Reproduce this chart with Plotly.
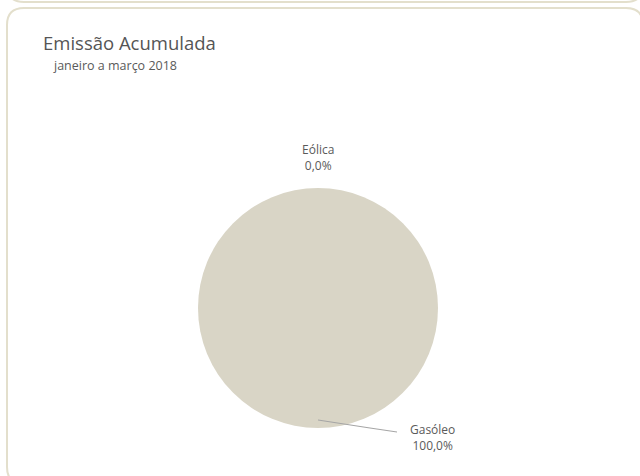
import plotly.graph_objects as go

categories = ["Eólica", "Gasóleo"]
values = [0.0, 100.0]
title = "Emissão Acumulada"
subtitle = "janeiro a março 2018"

W, H = 640, 476
FONT = "Open Sans, Noto Sans, sans-serif"
TXT = "#5a5a5a"
PIE = "#d9d5c6"

def pct(v):
    return f"{v:.1f}".replace(".", ",") + "%"

fig = go.Figure(go.Pie(
    labels=categories, values=values, sort=False, direction="clockwise",
    rotation=0, textinfo="none", hoverinfo="label+percent",
    marker=dict(colors=["#9c9a8c", PIE], line=dict(width=0)),
    domain=dict(x=[198/W, 438/W], y=[(H-428)/H, (H-188)/H]),
    showlegend=False,
))

def px(x):
    return x / W

def py(y):
    return 1 - y / H

anns = [
    dict(text=title, x=px(41), y=py(42), xanchor="left", yanchor="middle",
         font=dict(size=18.5, color="#555555", family=FONT)),
    dict(text=subtitle, x=px(51), y=py(66), xanchor="left", yanchor="middle",
         font=dict(size=12.5, color=TXT, family=FONT)),
    dict(text=f"{categories[0]}<br>{pct(values[0])}", x=px(318), y=py(158),
         xanchor="center", yanchor="middle",
         font=dict(size=12, color=TXT, family=FONT)),
    dict(text=f"{categories[1]}<br>{pct(values[1])}", x=px(432), y=py(437),
         xanchor="center", yanchor="middle",
         font=dict(size=12, color=TXT, family=FONT)),
]
for a in anns:
    a.update(xref="paper", yref="paper", showarrow=False)

r = 17
x0, x1, y0, y1 = 7, 643, 8, 484
path = (f"M {px(x0+r)},{py(y0)} L {px(x1-r)},{py(y0)} "
        f"Q {px(x1)},{py(y0)} {px(x1)},{py(y0+r)} L {px(x1)},{py(y1-r)} "
        f"Q {px(x1)},{py(y1)} {px(x1-r)},{py(y1)} L {px(x0+r)},{py(y1)} "
        f"Q {px(x0)},{py(y1)} {px(x0)},{py(y1-r)} L {px(x0)},{py(y0+r)} "
        f"Q {px(x0)},{py(y0)} {px(x0+r)},{py(y0)} Z")
top_path = (f"M {px(x0)},{py(-10)} L {px(x0)},{py(2-r)} "
            f"Q {px(x0)},{py(2)} {px(x0+r)},{py(2)} L {px(x1-r)},{py(2)} "
            f"Q {px(x1)},{py(2)} {px(x1)},{py(2-r)}")

shapes = [
    dict(type="path", path=path, xref="paper", yref="paper",
         line=dict(color="#e3dfcc", width=2), fillcolor="rgba(0,0,0,0)", layer="below"),
    dict(type="path", path=top_path, xref="paper", yref="paper",
         line=dict(color="#e3dfcc", width=2), layer="below"),
    dict(type="path", path=f"M {px(318)},{py(420)} L {px(370)},{py(428)} L {px(397)},{py(432)}",
         xref="paper", yref="paper", line=dict(color="#a6a6a6", width=1.2)),
]

fig.update_layout(
    width=W, height=H, margin=dict(l=0, r=0, t=0, b=0),
    paper_bgcolor="white", plot_bgcolor="white",
    annotations=anns, shapes=shapes,
)

fig.write_html("out.html", config={"displayModeBar": False},
               post_script="document.body.style.margin='0';document.body.style.overflow='hidden';")
